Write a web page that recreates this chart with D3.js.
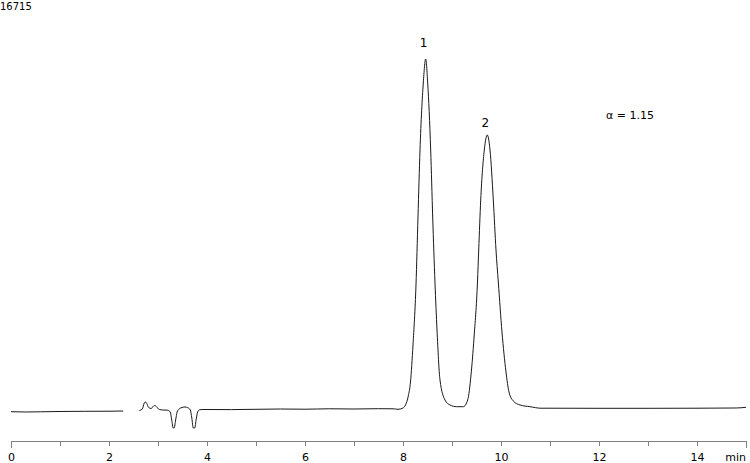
<!DOCTYPE html>
<html>
<head>
<meta charset="utf-8">
<script src="https://cdn.jsdelivr.net/npm/d3@7"></script>
<style>
  body { margin: 0; background: #fff; }
  svg { display: block; font-family: "DejaVu Sans", Verdana, sans-serif; }
</style>
</head>
<body>
<div id="chart"></div>
<script>
// retention time (min) and detector signal
// null marks the break in the recorded trace
var times = [
    0, 0.3, 0.6, 1.0, 1.5, 2.0, 2.29, 2.45,
    2.62, 2.68, 2.72, 2.745, 2.77, 2.81, 2.86, 2.91, 2.94, 2.98, 3.03, 3.1, 3.2,
    3.25, 3.28, 3.31, 3.33, 3.36, 3.39, 3.43, 3.49, 3.55, 3.61, 3.66,
    3.69, 3.72, 3.75, 3.78, 3.81, 3.85, 3.9,
    4.5, 5.0, 5.5, 6.0, 6.5, 7.0, 7.5, 7.8,
    7.898, 8.0, 8.051, 8.108, 8.153, 8.204, 8.265, 8.306, 8.347, 8.414,
    8.463, 8.504, 8.565, 8.606, 8.653, 8.694, 8.755, 8.857, 8.959, 9.096,
    9.231, 9.32, 9.388, 9.449, 9.52, 9.545, 9.586, 9.659,
    9.72, 9.776, 9.843, 9.898, 9.945, 10.02, 10.102, 10.163, 10.251, 10.388, 10.592,
    10.816, 11, 12, 13, 14, 14.8, 15
];
var signal = [
    -116, -129, -120, -107, -99, -95, -86, null,
    -64, 0, 258, 301, 236, 64, 21, 129, 150, 64, -21, -43, -52,
    -129, -473, -816, -816, -473, -129, 0, 64, 86, 52, -43,
    -387, -816, -816, -430, -129, -34, -21,
    -26, -13, 0, -9, 9, 0, 13, 9,
    -13, 43, 172, 559, 1160, 2750, 5328, 8250, 11129, 14008,
    15040, 14008, 11129, 8250, 5414, 3395, 1246, 387, 172, 99,
    99, 387, 1461, 3050, 5457, 6832, 8981, 11129,
    11774, 11129, 8981, 6832, 5457, 3309, 1590, 730, 344, 172, 99,
    34, 34, 30, 30, 34, 43, 73
];
var tickValues = [0, 1, 2, 3, 4, 5, 6, 7, 8, 9, 10, 11, 12, 13, 14, 15];
var peakLabels = ["1", "2"];
var peakTimes = [8.463, 9.72];
var peakHeights = [15040, 11774];
var fullScale = 16715;
var alphaText = "\u03b1 = 1.15";

var width = 750, height = 463;
var axisY = 441;

var x = d3.scaleLinear().domain([0, 15]).range([11, 746]);
var y = d3.scaleLinear().domain([0, fullScale]).range([409, 20]);

var data = times.map(function (t, i) { return { t: t, v: signal[i] }; });

var svg = d3.select("#chart").append("svg")
    .attr("width", width)
    .attr("height", height);

// trace
var line = d3.line()
    .defined(function (d) { return d.v !== null; })
    .x(function (d) { return x(d.t); })
    .y(function (d) { return y(d.v); })
    .curve(d3.curveMonotoneX);

svg.append("path")
    .datum(data)
    .attr("fill", "none")
    .attr("stroke", "#1a1a1a")
    .attr("stroke-width", 1)
    .attr("d", line);

// time axis
var axis = svg.append("g")
    .attr("transform", "translate(0," + axisY + ")")
    .call(d3.axisBottom(x)
        .tickValues(tickValues)
        .tickSize(5)
        .tickSizeOuter(7)
        .tickPadding(7)
        .tickFormat(function (d) { return (d % 2 === 0 && d < 15) ? d : ""; }));

axis.select(".domain").attr("stroke", "#808080");
axis.selectAll(".tick line").attr("stroke", "#808080");
axis.selectAll(".tick text")
    .attr("fill", "#000")
    .style("font-size", "11px")
    .style("font-family", "DejaVu Sans, sans-serif");

svg.append("text")
    .attr("x", x(15))
    .attr("y", 460.5)
    .attr("text-anchor", "end")
    .style("font-size", "11px")
    .text("min");

// full scale value
svg.append("text")
    .attr("x", 0)
    .attr("y", 10)
    .style("font-size", "10px")
    .text(fullScale);

// peak numbers, a little above each apex
svg.selectAll(".peak")
    .data(peakLabels)
    .enter().append("text")
    .attr("class", "peak")
    .attr("x", function (d, i) { return x(peakTimes[i]) - 2; })
    .attr("y", function (d, i) { return y(peakHeights[i]) - (i === 0 ? 12 : 8); })
    .attr("text-anchor", "middle")
    .style("font-size", "12px")
    .text(function (d) { return d; });

svg.append("text")
    .attr("x", 606)
    .attr("y", 119)
    .style("font-size", "11px")
    .text(alphaText);
</script>
</body>
</html>
